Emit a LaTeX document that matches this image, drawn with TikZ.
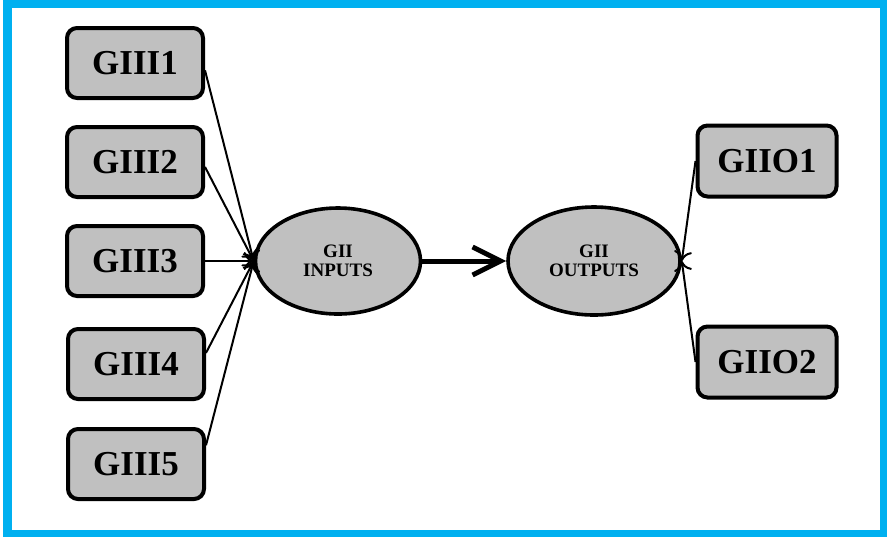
\documentclass[tikz,border=0pt]{standalone}
\usepackage{fontspec}
\setmainfont{Liberation Serif}
\usetikzlibrary{shapes.geometric,arrows.meta}
\definecolor{framecyan}{HTML}{00B0F0}
\definecolor{boxgray}{HTML}{C0C0C0}
\begin{document}
\begin{tikzpicture}[x=0.5pt,y=-0.5pt,
 gbox/.style={draw,line width=2pt,rounded corners=5pt,fill=boxgray,minimum width=68pt,minimum height=35pt,inner sep=0pt,font=\fontsize{17.5}{17.5}\selectfont\bfseries},
 gell/.style={draw,ellipse,line width=1.8pt,fill=boxgray,inner sep=0pt,align=center,font=\fontsize{9.5}{9.5}\selectfont\bfseries},
 link/.style={line width=1pt,-{To[length=5pt,width=9pt]}}]
 \useasboundingbox (0,0) rectangle (887,537);
 \fill[framecyan](3,0) rectangle (887,537);
 \fill[white](12,8) rectangle (880,530);
 \node[gbox](g1) at (135,63) {GIII1};
 \node[gbox](g2) at (135,162) {GIII2};
 \node[gbox](g3) at (135,261) {GIII3};
 \node[gbox](g4) at (136,364) {GIII4};
 \node[gbox](g5) at (136,464) {GIII5};
 \node[gell,minimum width=82.5pt,minimum height=53pt](gin) at (338,261) {GII\\INPUTS};
 \node[gell,minimum width=86pt,minimum height=54pt](gout) at (594,261) {GII\\OUTPUTS};
 \node[gbox,minimum width=69.5pt,minimum height=35.5pt](o1) at (767,161) {GIIO1};
 \node[gbox,minimum width=69.5pt,minimum height=35.5pt](o2) at (767,362) {GIIO2};
 \draw[link](g1.-6)--(gin.west);
 \draw[link](g2.-4)--(gin.west);
 \draw[link](g3.east)--(gin.west);
 \draw[link](g4.9)--(gin.west);
 \draw[link](g5.15)--(gin.west);
 \draw[line width=2.5pt,line cap=round,-{Straight Barb[length=14pt,width=14pt]}](gin)--(gout);
 \draw[link](o1.west)--(gout.east);
 \draw[link](o2.west)--(gout.east);
\end{tikzpicture}
\end{document}
